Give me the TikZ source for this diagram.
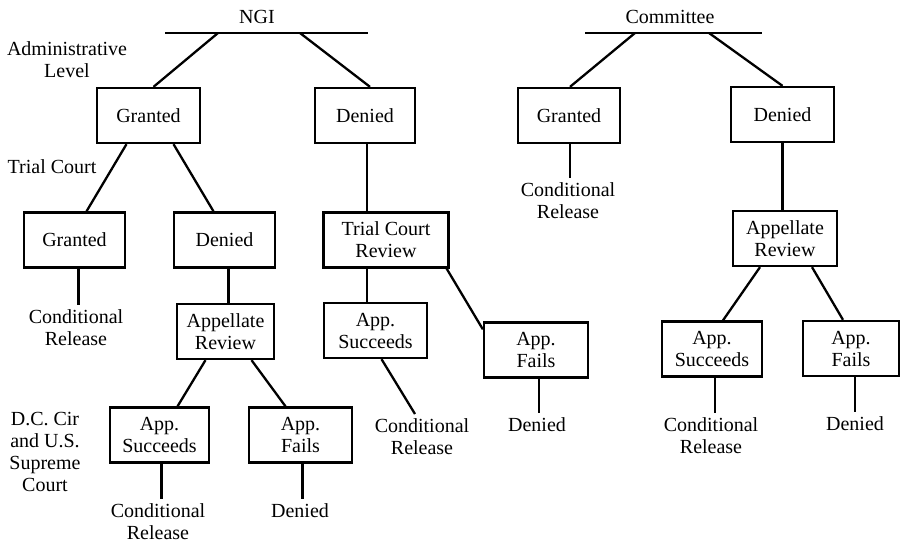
\documentclass[tikz,border=0pt]{standalone}
\usepackage{fontspec}
\setmainfont{Liberation Serif}
\begin{document}
\begin{tikzpicture}[x=1pt,y=-1pt,line width=2.3pt,
    every node/.style={font=\fontsize{20}{22}\selectfont,align=center},
    box/.style={draw,minimum height=55pt,inner sep=0pt,minimum width=#1},
    box/.default=102pt,
    outcome/.style={anchor=north,inner sep=3pt}]
    \useasboundingbox (0,0) rectangle (901,545);

    \node (ngi) at (257,17) {NGI};
    \node (com) at (670,17) {Committee};
    \draw (165,33) -- (368,33);
    \draw (585,33) -- (762,33);
    \coordinate (ngiL) at (218,33);
    \coordinate (ngiR) at (300,33);
    \coordinate (comL) at (635,33);
    \coordinate (comR) at (709,33);

    \node (admin) at (67,60) {Administrative\\Level};
    \node (trial) at (52,167) {Trial Court};
    \node (dccir) at (45,452) {D.C. Cir\\and U.S.\\Supreme\\Court};

    \node[box=103pt] (g1) at (148.5,115.5) {Granted};
    \node[box=100pt] (d1) at (365,115.5) {Denied};
    \node[box=101pt] (g2) at (74.5,240) {Granted};
    \node[box=101pt] (d2) at (224.5,240) {Denied};
    \node[box=125pt] (tcr) at (386,240) {Trial Court\\Review};
    \node[box=97pt] (ar1) at (225.5,331.5) {Appellate\\Review};
    \node[box=103pt] (as1) at (375.5,330.5) {App.\\Succeeds};
    \node[box=104pt] (af1) at (536,350) {App.\\Fails};
    \node[box=99pt] (as2) at (159.5,435) {App.\\Succeeds};
    \node[box=103pt] (af2) at (300.5,435) {App.\\Fails};
    \node[box] (g3) at (569,115.5) {Granted};
    \node[box=103pt] (d3) at (782.5,114.5) {Denied};
    \node[box=104pt] (ar2) at (785,238.5) {Appellate\\Review};
    \node[box=100pt] (as3) at (712,349) {App.\\Succeeds};
    \node[box=96pt] (af3) at (851,348.5) {App.\\Fails};

    \node[outcome] (cr1) at (76,305) {Conditional\\Release};
    \node[outcome] (cr2) at (158,499) {Conditional\\Release};
    \node[outcome] (dn2) at (300,499) {Denied};
    \node[outcome] (cr3) at (422,414) {Conditional\\Release};
    \node[outcome] (dn1) at (537,413) {Denied};
    \node[outcome] (cr4) at (568,178) {Conditional\\Release};
    \node[outcome] (cr5) at (711,413) {Conditional\\Release};
    \node[outcome] (dn3) at (855,412) {Denied};

    \draw (ngiL) -- ([xshift=5pt]g1.north);
    \draw (ngiR) -- ([xshift=5pt]d1.north);
    \draw ([xshift=-22pt]g1.south) -- ([xshift=12pt]g2.north);
    \draw ([xshift=25pt]g1.south) -- ([xshift=-11pt]d2.north);
    \draw ([xshift=2pt]d1.south) -- ([xshift=2pt]d1.south |- tcr.north);
    \draw ([xshift=-19pt]tcr.south) -- ([xshift=-19pt]tcr.south |- as1.north);
    \draw ([xshift=-3pt]tcr.south east) -- ([yshift=-8pt]af1.north west);
    \draw ([xshift=4pt]d2.south) -- ([xshift=4pt]d2.south |- ar1.north);
    \draw ([xshift=-20pt]ar1.south) -- ([xshift=18pt]as2.north);
    \draw ([xshift=26pt]ar1.south) -- ([xshift=-15pt]af2.north);
    \draw (comL) -- ([xshift=1pt]g3.north);
    \draw (comR) -- (d3.north);
    \draw (d3.south) -- (d3.south |- ar2.north);
    \draw ([xshift=-25pt]ar2.south) -- ([xshift=11pt]as3.north);
    \draw ([xshift=27pt]ar2.south) -- ([xshift=-8pt]af3.north);

    \draw ([xshift=4pt]g2.south) -- ([xshift=4pt]g2.south |- cr1.north);
    \draw ([xshift=2pt]as2.south) -- ([xshift=2pt]as2.south |- cr2.north);
    \draw ([xshift=2pt]af2.south) -- ([xshift=2pt]af2.south |- dn2.north);
    \draw ([xshift=6pt]as1.south) -- ([xshift=-7pt]cr3.north);
    \draw ([xshift=3pt]af1.south) -- ([xshift=3pt]af1.south |- dn1.north);
    \draw ([xshift=1pt]g3.south) -- ([xshift=1pt]g3.south |- cr4.north);
    \draw ([xshift=3pt]as3.south) -- ([xshift=3pt]as3.south |- cr5.north);
    \draw ([xshift=4pt]af3.south) -- ([xshift=4pt]af3.south |- dn3.north);
\end{tikzpicture}
\end{document}
